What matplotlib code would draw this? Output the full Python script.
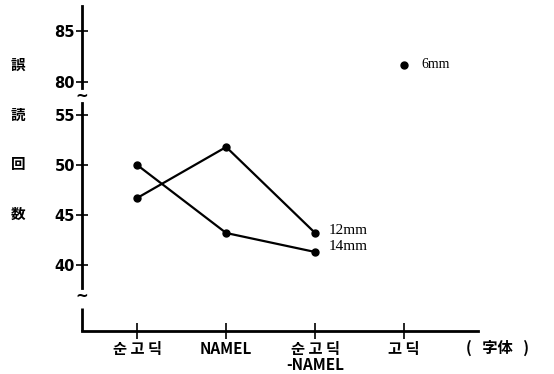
import matplotlib
matplotlib.use("Agg")
import matplotlib.pyplot as plt

categories = ["순 고 딕", "NAMEL", "순 고 딕\n-NAMEL", "고 딕"]
x_pos = [0, 1, 2, 3]
series_12mm = [46.7, 51.8, 43.2]
series_14mm = [50.0, 43.2, 41.3]
series_6mm_x = [3]
series_6mm = [81.7]
lower_ticks = [40, 45, 50, 55]
upper_ticks = [80, 85]
ylabel_chars = ["誤", "読", "回", "数"]

fig = plt.figure(figsize=(5.54, 3.74), dpi=100)
L, W = 82 / 554, 396 / 554
axb = fig.add_axes([L, 43 / 374, W, 228 / 374])
axt = fig.add_axes([L, 286 / 374, W, 82 / 374])

xmin, xmax = -0.62, 3.83
for ax in (axb, axt):
    ax.set_xlim(xmin, xmax)
    ax.patch.set_alpha(0)
    for s in ("top", "right"):
        ax.spines[s].set_visible(False)
    ax.spines["left"].set_linewidth(2)
    ax.tick_params(axis="y", direction="inout", length=8, width=1.2, pad=1,
                   labelsize=10.5)
    for lab in ax.get_yticklabels():
        lab.set_fontweight("semibold")

axb.set_ylim(33.4, 56.2)
axt.set_ylim(79.4, 87.45)
axt.spines["bottom"].set_visible(False)
axt.set_xticks([])

axb.set_yticks(lower_ticks)
axt.set_yticks(upper_ticks)
for ax in (axb, axt):
    for lab in ax.get_yticklabels():
        lab.set_fontweight("semibold")
axb.spines["left"].set_bounds(37.7, 56.2)
axb.plot([0, 0], [33.4, 35.7], color="black", lw=2, transform=axb.get_yaxis_transform(),
         clip_on=False, solid_capstyle="butt")
axb.spines["bottom"].set_linewidth(2)
axb.set_xticks(x_pos)
axb.set_xticklabels(categories, family=["Noto Sans CJK KR", "DejaVu Sans"],
                    fontsize=11, fontweight="bold", linespacing=1.0)
axb.tick_params(axis="x", direction="inout", length=12, width=1.2, pad=1)

# break marks
fig.text(L, 1 - 96 / 374, "~", ha="center", va="center", fontsize=11, fontweight="bold")
fig.text(L, 1 - 296 / 374, "~", ha="center", va="center", fontsize=11, fontweight="bold")

kw = dict(color="black", lw=1.6, marker="o", markersize=5)
axb.plot(x_pos[:3], series_12mm, **kw)
axb.plot(x_pos[:3], series_14mm, **kw)
axt.plot(series_6mm_x, series_6mm, color="black", marker="o", markersize=5, lw=0)

axb.annotate("12mm", (x_pos[2], series_12mm[2]), xytext=(14, 3), textcoords="offset pixels",
             va="center", ha="left", fontsize=11, family="Liberation Serif")
axb.annotate("14mm", (x_pos[2], series_14mm[2]), xytext=(14, 6), textcoords="offset pixels",
             va="center", ha="left", fontsize=11, family="Liberation Serif")
axt.annotate("6mm", (series_6mm_x[0], series_6mm[0]), xytext=(17, 0), textcoords="offset pixels",
             va="center", ha="left", fontsize=10, family="Liberation Serif")

fig.text(497 / 554, 1 - 348 / 374, "(   字体   )", ha="center", va="center",
         family=["Noto Sans CJK JP", "DejaVu Sans"], fontsize=11, fontweight="bold")

for ch, yp in zip(ylabel_chars, [65, 115, 164, 214]):
    fig.text(18 / 554, 1 - yp / 374, ch, ha="center", va="center",
             family=["Noto Sans CJK JP"], fontsize=10.5, fontweight="bold")

fig.savefig("out.png", dpi=100)
